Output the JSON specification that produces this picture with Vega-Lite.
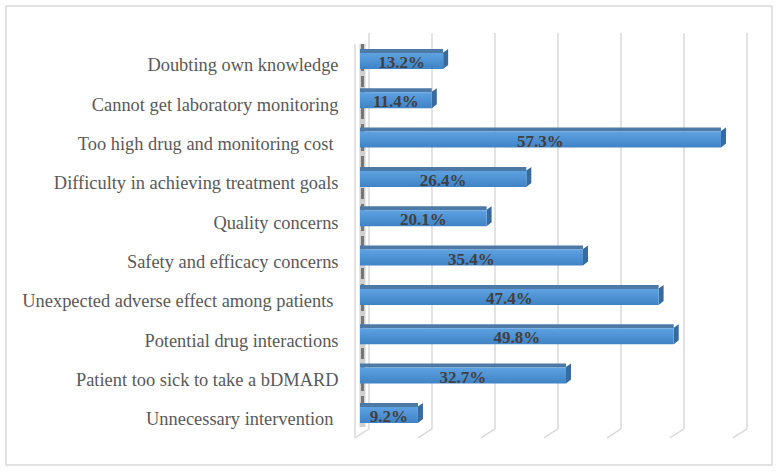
{
"$schema":"https://vega.github.io/schema/vega-lite/v6.json",
"width":766,"height":459,
"autosize":{"type":"none"},
"padding":{"left":6,"top":6,"right":8,"bottom":8},
"background":"white",
"config":{"view":{"stroke":"#d9d9d9","strokeWidth":1.5}},
"datasets":{
"bars":[
{"reason":"Doubting own knowledge","value":13.2,"label":"13.2%"},
{"reason":"Cannot get laboratory monitoring","value":11.4,"label":"11.4%"},
{"reason":"Too high drug and monitoring cost","value":57.3,"label":"57.3%"},
{"reason":"Difficulty in achieving treatment goals","value":26.4,"label":"26.4%"},
{"reason":"Quality concerns","value":20.1,"label":"20.1%"},
{"reason":"Safety and efficacy concerns","value":35.4,"label":"35.4%"},
{"reason":"Unexpected adverse effect among patients","value":47.4,"label":"47.4%"},
{"reason":"Potential drug interactions","value":49.8,"label":"49.8%"},
{"reason":"Patient too sick to take a bDMARD","value":32.7,"label":"32.7%"},
{"reason":"Unnecessary intervention","value":9.2,"label":"9.2%"}
],
"ticks":[{"t":0},{"t":10},{"t":20},{"t":30},{"t":40},{"t":50},{"t":60}]
},
"encoding":{
"y":{"field":"reason","type":"nominal","sort":null,
"scale":{"domain":["Doubting own knowledge","Cannot get laboratory monitoring","Too high drug and monitoring cost","Difficulty in achieving treatment goals","Quality concerns","Safety and efficacy concerns","Unexpected adverse effect among patients","Potential drug interactions","Patient too sick to take a bDMARD","Unnecessary intervention"],"paddingInner":0,"paddingOuter":0.835,"align":0.537,"round":false},
"axis":{"title":null,"offset":-349,"labelOffset":4.5,"domain":false,"ticks":false,"grid":false,"labelFont":"Liberation Serif","labelFontSize":18.4,"labelColor":"#595959","labelLimit":400,
"labelPadding":{"condition":{"test":"indexof(['Too high drug and monitoring cost','Unexpected adverse effect among patients','Unnecessary intervention'],datum.value)>=0","value":22},"value":17}}}
},
"layer":[
{"data":{"name":"ticks"},
"mark":{"type":"rule","stroke":"#d9d9d9","strokeWidth":1.5,"xOffset":9,"yOffset":-28,"y2Offset":14},
"encoding":{
"x":{"field":"t","type":"quantitative","scale":{"domain":[-56.19,65.4],"nice":false,"zero":false},"axis":null},
"y":{"datum":"Doubting own knowledge"},
"y2":{"datum":"Unnecessary intervention"}}},
{"data":{"name":"ticks"},
"mark":{"type":"point","shape":"M9,0L-5,9","size":4,"filled":false,"stroke":"#d9d9d9","strokeWidth":1.5,"opacity":1,"yOffset":14},
"encoding":{"x":{"field":"t","type":"quantitative"},
"y":{"datum":"Unnecessary intervention"}}},
{"data":{"values":[{"t":0}]},
"mark":{"type":"rule","stroke":"#d9d9d9","strokeWidth":1.5,"xOffset":-5,"yOffset":-17,"y2Offset":23},
"encoding":{"x":{"field":"t","type":"quantitative"},
"y":{"datum":"Doubting own knowledge"},
"y2":{"datum":"Unnecessary intervention"}}},
{"data":{"values":[{"t":0}]},
"mark":{"type":"rule","stroke":"#d0d0d0","strokeWidth":6,"xOffset":2.5,"yOffset":-17,"y2Offset":12},
"encoding":{"x":{"field":"t","type":"quantitative"},
"y":{"datum":"Doubting own knowledge"},
"y2":{"datum":"Unnecessary intervention"}}},
{"data":{"values":[{"t":0}]},
"mark":{"type":"rule","stroke":"#777777","strokeWidth":3,"strokeDash":[11,5],"xOffset":2.5,"yOffset":-17,"y2Offset":12},
"encoding":{"x":{"field":"t","type":"quantitative"},
"y":{"datum":"Doubting own knowledge"},
"y2":{"datum":"Unnecessary intervention"}}},
{"data":{"name":"bars"},
"mark":{"type":"bar","size":4,"yOffset":-10,"color":"#4d79a6"},
"encoding":{"x":{"field":"value","type":"quantitative","stack":null}}},
{"data":{"name":"bars"},
"mark":{"type":"point","shape":"M0,-8.5L5,-12L5,4L0,8Z","size":4,"filled":true,"color":"#376a9e","opacity":1},
"encoding":{"x":{"field":"value","type":"quantitative"}}},
{"data":{"name":"bars"},
"mark":{"type":"bar","size":16,"color":{"gradient":"linear","x1":0,"y1":0,"x2":0,"y2":1,"stops":[{"offset":0,"color":"#5fa2e2"},{"offset":1,"color":"#3f83c6"}]}},
"encoding":{"x":{"field":"value","type":"quantitative","stack":null}}},
{"data":{"name":"bars"},
"transform":[{"calculate":"datum.value/2","as":"mid"}],
"mark":{"type":"text","font":"Liberation Serif","fontWeight":"bold","fontSize":17,"color":"#404040","align":"center","baseline":"middle","yOffset":2},
"encoding":{"x":{"field":"mid","type":"quantitative"},"text":{"field":"label"}}}
]
}
